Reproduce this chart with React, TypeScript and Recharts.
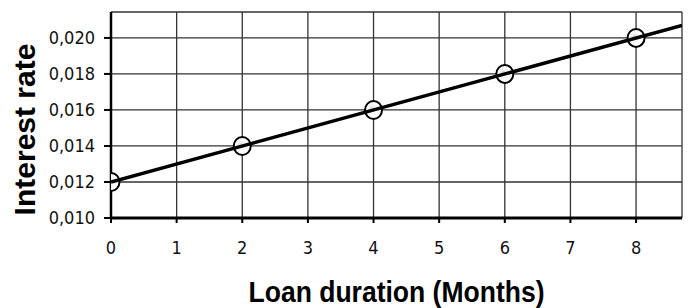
import React from 'react';
import {
  ComposedChart,
  Scatter,
  Line,
  XAxis,
  YAxis,
  CartesianGrid,
} from 'recharts';

// observed points
const months = [0, 2, 4, 6, 8];
const rates = [0.012, 0.014, 0.016, 0.018, 0.02];

// axis ticks
const xTicks = [0, 1, 2, 3, 4, 5, 6, 7, 8];
const yTicks = [0.01, 0.012, 0.014, 0.016, 0.018, 0.02];

const X_MAX = 8.7;
const Y_MIN = 0.01;
const Y_MAX = 0.02144;

const points = months.map((m, i) => ({ x: m, y: rates[i] }));

// least squares trend line through the observed points
function fitLine(xs: number[], ys: number[]) {
  const n = xs.length;
  const mx = xs.reduce((a, b) => a + b, 0) / n;
  const my = ys.reduce((a, b) => a + b, 0) / n;
  let num = 0;
  let den = 0;
  xs.forEach((x, i) => {
    num += (x - mx) * (ys[i] - my);
    den += (x - mx) * (x - mx);
  });
  const slope = num / den;
  return { slope, intercept: my - slope * mx };
}

const fit = fitLine(months, rates);
const trend = [0, X_MAX].map((x) => ({ x, y: fit.intercept + fit.slope * x }));

const tickFont = '"DejaVu Sans Condensed", "DejaVu Sans", sans-serif';
const titleFont = '"Liberation Sans", Arial, sans-serif';

const fmtRate = (v: number) => v.toFixed(3).replace('.', ',');

function Marker(props: any) {
  const { cx, cy } = props;
  if (cx == null || cy == null) return null;
  return (
    <ellipse
      cx={cx}
      cy={cy}
      rx={8.5}
      ry={9}
      fill="url(#markerFill)"
      stroke="#000"
      strokeWidth={2}
    />
  );
}

function XTitle(props: any) {
  const vb = props.viewBox || {};
  const cx = vb.x + vb.width / 2;
  return (
    <text
      x={cx}
      y={302}
      textAnchor="middle"
      fontFamily={titleFont}
      fontWeight="bold"
      fontSize={30}
      textLength={296}
      lengthAdjust="spacingAndGlyphs"
      fill="#000"
    >
      Loan duration (Months)
    </text>
  );
}

function YTitle() {
  return (
    <text
      transform="translate(35,129.5) rotate(-90)"
      textAnchor="middle"
      fontFamily={titleFont}
      fontWeight="bold"
      fontSize={30}
      fill="#000"
    >
      Interest rate
    </text>
  );
}

export default function App() {
  return (
    <div style={{ width: 688, height: 308, background: '#fff' }}>
      <style>{'body{margin:0}'}</style>
      <ComposedChart
        width={688}
        height={308}
        margin={{ top: 12, right: 6, left: 0, bottom: 0 }}
      >
        <defs>
          <radialGradient id="markerFill" cx="40%" cy="42%" r="50%">
            <stop offset="0%" stopColor="#d6d6d6" />
            <stop offset="35%" stopColor="#f4f4f4" />
            <stop offset="100%" stopColor="#ffffff" />
          </radialGradient>
        </defs>
        <CartesianGrid stroke="#333" strokeWidth={1.3} />
        <XAxis
          type="number"
          dataKey="x"
          domain={[0, X_MAX]}
          ticks={xTicks}
          allowDataOverflow
          height={90}
          tickSize={5}
          tickMargin={18}
          axisLine={{ stroke: '#000', strokeWidth: 3 }}
          tickLine={{ stroke: '#000', strokeWidth: 2 }}
          tick={{ fontFamily: tickFont, fontSize: 18, fill: '#111' }}
          label={<XTitle />}
        />
        <YAxis
          type="number"
          dataKey="y"
          domain={[Y_MIN, Y_MAX]}
          ticks={yTicks}
          allowDataOverflow
          width={111}
          tickSize={7}
          tickMargin={9}
          tickFormatter={fmtRate}
          axisLine={{ stroke: '#000', strokeWidth: 2.5 }}
          tickLine={{ stroke: '#000', strokeWidth: 2 }}
          tick={{ fontFamily: tickFont, fontSize: 18, fill: '#111' }}
          label={<YTitle />}
        />
        <Scatter
          data={points}
          shape={<Marker />}
          zIndex={500}
          isAnimationActive={false}
        />
        <Line
          data={trend}
          dataKey="y"
          type="linear"
          stroke="#000"
          strokeWidth={3.5}
          dot={false}
          activeDot={false}
          zIndex={700}
          isAnimationActive={false}
        />
      </ComposedChart>
    </div>
  );
}
